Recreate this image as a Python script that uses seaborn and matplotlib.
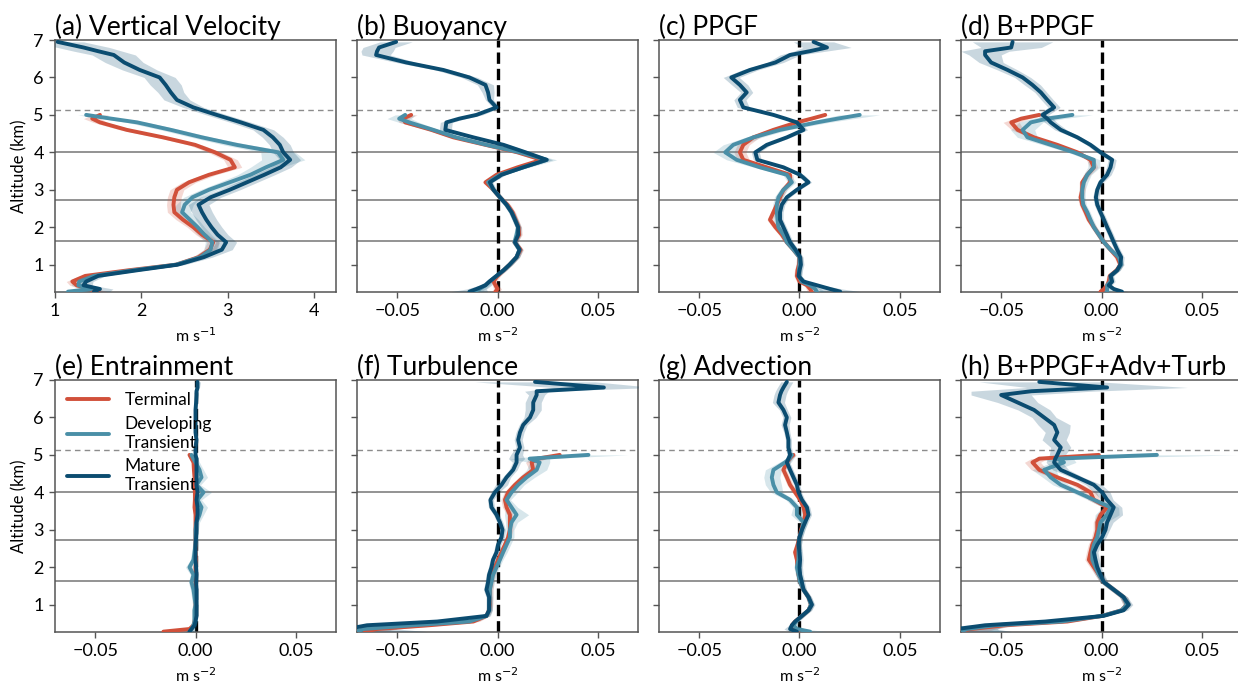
import numpy as np
import pandas as pd
import matplotlib
matplotlib.use("Agg")
import matplotlib.pyplot as plt
from matplotlib.lines import Line2D
import seaborn as sns

# ---------------------------------------------------------------------------
# Altitude grids (km): terminal / developing thermals stop at 5 km,
# mature transients reach ~7 km.
Z_TD = [0.28, 0.35, 0.45, 0.55, 0.7, 0.85, 1.0, 1.2, 1.4, 1.6, 1.8, 2.0, 2.2, 2.4,
        2.6, 2.8, 3.0, 3.2, 3.4, 3.6, 3.8, 4.0, 4.2, 4.4, 4.6, 4.8, 4.9, 5.0]
Z_M = Z_TD + [5.2, 5.4, 5.6, 5.8, 6.0, 6.2, 6.4, 6.6, 6.7, 6.8, 6.95]

GROUPS = ["Terminal", "Developing\nTransient", "Mature\nTransient"]
COLORS = ["#d1503a", "#4a8fa7", "#0b4c70"]

# (a) vertical velocity, m s-1
TERM_W = [1.50, 1.40, 1.25, 1.20, 1.35, 1.85, 2.40, 2.66, 2.79, 2.83, 2.70, 2.60, 2.48, 2.38,
          2.37, 2.38, 2.41, 2.55, 2.78, 3.08, 3.03, 2.85, 2.62, 2.25, 1.83, 1.52, 1.43, 1.52]
DEV_W = [1.15, 1.42, 1.27, 1.28, 1.45, 1.90, 2.40, 2.68, 2.80, 2.82, 2.73, 2.65, 2.56, 2.47,
         2.50, 2.59, 2.78, 3.02, 3.26, 3.44, 3.64, 3.58, 3.10, 2.70, 2.34, 1.95, 1.65, 1.36]
MAT_W = [1.45, 1.52, 1.33, 1.36, 1.50, 1.95, 2.42, 2.72, 2.93, 2.98, 2.88, 2.81, 2.75, 2.70,
         2.66, 2.80, 3.02, 3.22, 3.42, 3.61, 3.72, 3.64, 3.60, 3.52, 3.41, 3.15, 3.01, 2.87,
         2.60, 2.41, 2.34, 2.28, 2.21, 1.98, 1.80, 1.68, 1.50, 1.33, 1.03]
TERM_W_ERR = [0.10, 0.10, 0.08, 0.07, 0.07, 0.07, 0.07, 0.07, 0.07, 0.07, 0.07, 0.07, 0.08, 0.08,
              0.08, 0.08, 0.08, 0.08, 0.08, 0.08, 0.08, 0.08, 0.08, 0.08, 0.08, 0.08, 0.10, 0.10]
DEV_W_ERR = [0.15, 0.12, 0.08, 0.08, 0.08, 0.08, 0.08, 0.08, 0.08, 0.08, 0.08, 0.08, 0.10, 0.10,
             0.10, 0.10, 0.10, 0.12, 0.15, 0.18, 0.25, 0.20, 0.15, 0.12, 0.12, 0.12, 0.10, 0.10]
MAT_W_ERR = [0.18, 0.15, 0.10, 0.08, 0.08, 0.08, 0.08, 0.10, 0.12, 0.12, 0.12, 0.12, 0.12, 0.12,
             0.12, 0.12, 0.12, 0.12, 0.12, 0.12, 0.12, 0.12, 0.12, 0.12, 0.12, 0.12, 0.12, 0.12,
             0.12, 0.15, 0.15, 0.18, 0.18, 0.20, 0.22, 0.25, 0.28, 0.30, 0.30]

# (b) buoyancy, m s-2
TERM_B = [-0.001, 0.0, -0.001, -0.002, 0.0, 0.003, 0.006, 0.0095, 0.0115, 0.0085, 0.0108, 0.0105,
          0.009, 0.0075, 0.005, 0.0012, -0.002, -0.006, -0.0005, 0.010, 0.022, 0.010, -0.006,
          -0.022, -0.033, -0.046, -0.047, -0.043]
DEV_B = [-0.012, -0.009, -0.006, -0.004, -0.0005, 0.003, 0.006, 0.0095, 0.011, 0.0085, 0.0095,
         0.0103, 0.0087, 0.007, 0.0045, 0.0012, -0.002, -0.0047, 0.0012, 0.0128, 0.0245, 0.011,
         -0.0055, -0.0205, -0.032, -0.044, -0.049, -0.046]
MAT_B = [-0.014, -0.0105, -0.006, -0.004, -0.0005, 0.003, 0.006, 0.0095, 0.011, 0.0087, 0.0103,
         0.0103, 0.0087, 0.007, 0.0045, 0.0012, -0.002, -0.0038, 0.002, 0.0128, 0.0245, 0.014,
         0.003, -0.012, -0.026, -0.0255, -0.019, -0.0105, -0.0005, -0.004, -0.0047, -0.006,
         -0.014, -0.027, -0.0455, -0.0605, -0.060, -0.059, -0.0505]
TERM_B_ERR = [0.002, 0.002, 0.0015, 0.0015, 0.0015, 0.0015, 0.0015, 0.0015, 0.0015, 0.0015,
              0.0015, 0.0015, 0.0015, 0.0015, 0.0015, 0.0015, 0.0015, 0.0015, 0.0015, 0.002,
              0.002, 0.002, 0.002, 0.002, 0.002, 0.003, 0.003, 0.003]
DEV_B_ERR = [0.004, 0.003, 0.002, 0.0015, 0.0015, 0.0015, 0.0015, 0.0015, 0.0015, 0.0015,
             0.0015, 0.0015, 0.0015, 0.0015, 0.0015, 0.0015, 0.0015, 0.0015, 0.002, 0.003,
             0.005, 0.004, 0.003, 0.003, 0.003, 0.005, 0.006, 0.005]
MAT_B_ERR = [0.009, 0.005, 0.003, 0.002, 0.0015, 0.0015, 0.0015, 0.0015, 0.0015, 0.0015,
             0.0015, 0.0015, 0.0015, 0.0015, 0.0015, 0.0015, 0.0015, 0.0015, 0.002, 0.002,
             0.003, 0.003, 0.003, 0.003, 0.003, 0.003, 0.003, 0.003, 0.002, 0.002, 0.003,
             0.004, 0.004, 0.004, 0.005, 0.007, 0.008, 0.008, 0.008]

# (c) perturbation pressure gradient force, m s-2
TERM_C = [0.006, 0.0053, 0.0037, 0.0, -0.0013, -0.001, -0.0003, 0.0, -0.003, -0.0063, -0.0088,
          -0.012, -0.0147, -0.013, -0.0113, -0.0097, -0.008, -0.0047, -0.0047, -0.0163, -0.028,
          -0.0297, -0.028, -0.023, -0.013, -0.0013, 0.006, 0.0128]
DEV_C = [0.0087, 0.0078, 0.0053, 0.001, -0.0003, -0.0003, 0.0, 0.0, -0.003, -0.0063, -0.008,
         -0.0105, -0.011, -0.0113, -0.0113, -0.0105, -0.008, -0.0038, -0.0063, -0.0197, -0.0313,
         -0.037, -0.033, -0.023, -0.0097, 0.0087, 0.019, 0.030]
MAT_C = [0.0203, 0.0153, 0.0087, 0.002, -0.0005, 0.0, 0.0007, 0.0003, -0.002, -0.0047, -0.0063,
         -0.008, -0.0097, -0.0097, -0.0088, -0.0063, -0.0013, 0.0045, 0.0003, -0.008, -0.021,
         -0.022, -0.0163, -0.0063, 0.002, -0.0013, -0.007, -0.013, -0.028, -0.0297, -0.0263,
         -0.0297, -0.034, -0.0247, -0.012, -0.0047, 0.005, 0.0137, 0.007]
TERM_C_ERR = [0.002, 0.002, 0.0015, 0.0015, 0.0015, 0.0015, 0.0015, 0.0015, 0.0015, 0.0015,
              0.0015, 0.0015, 0.0015, 0.0015, 0.0015, 0.0015, 0.0015, 0.0015, 0.0015, 0.002,
              0.003, 0.003, 0.003, 0.003, 0.003, 0.003, 0.002, 0.002]
DEV_C_ERR = [0.004, 0.003, 0.002, 0.0015, 0.0015, 0.0015, 0.0015, 0.0015, 0.0015, 0.0015,
             0.0015, 0.002, 0.002, 0.002, 0.002, 0.002, 0.002, 0.002, 0.002, 0.003, 0.005,
             0.006, 0.005, 0.004, 0.004, 0.006, 0.008, 0.010]
MAT_C_ERR = [0.010, 0.006, 0.003, 0.002, 0.0015, 0.0015, 0.0015, 0.0015, 0.0015, 0.0015,
             0.0015, 0.0015, 0.0015, 0.0015, 0.0015, 0.0015, 0.0015, 0.0015, 0.002, 0.002,
             0.002, 0.002, 0.002, 0.002, 0.002, 0.002, 0.002, 0.002, 0.003, 0.003, 0.003,
             0.004, 0.004, 0.004, 0.004, 0.005, 0.008, 0.012, 0.010]

# (d) buoyancy + PPGF, m s-2
TERM_D = [-0.0005, 0.0012, 0.0028, 0.0036, 0.0041, 0.0075, 0.0094, 0.0078, 0.0045, 0.0012,
          -0.0013, -0.0038, -0.0063, -0.0079, -0.0096, -0.0104, -0.0096, -0.0096, -0.0071,
          -0.0038, -0.0055, -0.012, -0.022, -0.0336, -0.0418, -0.045, -0.040, -0.031]
DEV_D = [0.0028, 0.0028, 0.0028, 0.0045, 0.0045, 0.0078, 0.0098, 0.0086, 0.0045, 0.0012,
         -0.0013, -0.0038, -0.0055, -0.0071, -0.0091, -0.0096, -0.0096, -0.0088, -0.0071,
         -0.0038, -0.0038, -0.0137, -0.0253, -0.0369, -0.0393, -0.0352, -0.027, -0.0145]
MAT_D = [0.0102, 0.0061, 0.0036, 0.0053, 0.0045, 0.0078, 0.0094, 0.0098, 0.0078, 0.0061,
         0.0045, 0.0028, 0.0012, -0.0005, -0.0021, -0.0028, -0.0021, -0.0005, 0.0028, 0.0045,
         0.0053, -0.0005, -0.0055, -0.012, -0.0203, -0.0253, -0.027, -0.0294, -0.0236, -0.027,
         -0.0302, -0.0344, -0.0393, -0.0468, -0.055, -0.058, -0.058, -0.045, -0.0443]
TERM_D_ERR = [0.002, 0.0015, 0.0015, 0.0015, 0.0015, 0.0015, 0.0015, 0.0015, 0.0015, 0.0015,
              0.0015, 0.0015, 0.0015, 0.0015, 0.0015, 0.0015, 0.0015, 0.0015, 0.0015, 0.002,
              0.002, 0.002, 0.002, 0.002, 0.003, 0.004, 0.004, 0.003]
DEV_D_ERR = [0.003, 0.002, 0.0015, 0.0015, 0.0015, 0.0015, 0.0015, 0.0015, 0.0015, 0.0015,
             0.0015, 0.0015, 0.0015, 0.0015, 0.0015, 0.0015, 0.0015, 0.002, 0.002, 0.003,
             0.003, 0.003, 0.004, 0.005, 0.006, 0.006, 0.008, 0.010]
MAT_D_ERR = [0.003, 0.002, 0.0015, 0.0015, 0.0015, 0.0015, 0.0015, 0.0015, 0.0015, 0.0015,
             0.0015, 0.0015, 0.0015, 0.0015, 0.0015, 0.0015, 0.0015, 0.0015, 0.002, 0.002,
             0.002, 0.002, 0.002, 0.002, 0.003, 0.003, 0.003, 0.003, 0.003, 0.003, 0.003,
             0.004, 0.004, 0.005, 0.006, 0.008, 0.012, 0.015, 0.020]

# (e) entrainment, m s-2
TERM_E = [-0.016, -0.003, -0.001, -0.0005, 0.0, 0.0, 0.0, 0.0, 0.0, 0.0, 0.0, 0.0, 0.0003, 0.0,
          0.0, 0.0, 0.0, 0.0, 0.0, -0.0005, -0.0003, -0.0003, -0.0005, -0.0005, -0.0008, -0.001,
          -0.002, -0.003]
DEV_E = [-0.003, -0.002, -0.001, -0.0005, -0.0005, -0.0005, 0.0, -0.0005, -0.001, -0.002,
         -0.001, -0.003, -0.001, -0.0005, 0.0, 0.0, 0.0, 0.0005, 0.002, 0.003, 0.001, 0.004,
         0.0005, 0.003, 0.002, 0.0, -0.001, -0.002]
MAT_E = [-0.003, -0.002, -0.0005, 0.0, 0.0005, 0.0005, 0.0005, 0.0005, 0.0005, 0.0003, 0.0005,
         0.0003, 0.0, 0.0, 0.0, 0.0003, 0.0005, 0.0005, 0.001, 0.001, 0.0005, 0.001, 0.0005,
         0.0005, 0.0005, 0.0005, 0.0005, 0.0, 0.0, 0.0005, 0.0, 0.0, 0.0, 0.0, 0.0003, 0.0005,
         0.0005, 0.001, 0.001]
TERM_E_ERR = [0.002, 0.001, 0.0008, 0.0008, 0.0008, 0.0008, 0.0008, 0.0008, 0.0008, 0.0008,
              0.0008, 0.0008, 0.0008, 0.0008, 0.0008, 0.0008, 0.0008, 0.0008, 0.0008, 0.0008,
              0.0008, 0.0008, 0.0008, 0.0008, 0.0008, 0.001, 0.001, 0.001]
DEV_E_ERR = [0.003, 0.002, 0.0015, 0.0015, 0.0015, 0.0015, 0.0015, 0.0015, 0.0015, 0.0015,
             0.0015, 0.002, 0.0015, 0.0015, 0.0015, 0.0015, 0.0015, 0.0015, 0.002, 0.003,
             0.002, 0.004, 0.002, 0.003, 0.002, 0.002, 0.002, 0.002]
MAT_E_ERR = [0.002, 0.001, 0.0008, 0.0008, 0.0008, 0.0008, 0.0008, 0.0008, 0.0008, 0.0008,
             0.0008, 0.0008, 0.0008, 0.0008, 0.0008, 0.0008, 0.0008, 0.0008, 0.0008, 0.0008,
             0.0008, 0.0008, 0.0008, 0.0008, 0.0008, 0.0008, 0.0008, 0.0008, 0.0008, 0.0008,
             0.0008, 0.0008, 0.0008, 0.0008, 0.0008, 0.0008, 0.0008, 0.001, 0.0015]

# (f) turbulence, m s-2
TERM_F = [-0.066, -0.060, -0.034, -0.012, -0.0055, -0.0042, -0.0038, -0.0038, -0.0038, -0.0033,
          -0.0025, -0.0013, 0.0003, 0.002, 0.0037, 0.0053, 0.0062, 0.0062, 0.0062, 0.0045,
          0.0037, 0.0053, 0.0087, 0.0128, 0.0178, 0.017, 0.020, 0.031]
DEV_F = [-0.070, -0.067, -0.042, -0.014, -0.0055, -0.004, -0.004, -0.0038, -0.0038, -0.003,
         -0.0022, -0.0005, 0.0012, 0.0028, 0.0045, 0.0062, 0.0062, 0.007, 0.0095, 0.007, 0.0045,
         0.007, 0.0103, 0.0145, 0.0195, 0.021, 0.016, 0.0453]
MAT_F = [-0.075, -0.075, -0.065, -0.030, -0.0055, -0.0042, -0.0042, -0.0042, -0.0055, -0.0047,
         -0.0042, -0.003, -0.0022, -0.0005, 0.0003, 0.002, 0.0025, 0.0012, -0.0005, -0.003,
         -0.0035, -0.0013, 0.002, 0.0045, 0.0078, 0.0095, 0.0095, 0.0095, 0.0112, 0.0103,
         0.0112, 0.0128, 0.0162, 0.0178, 0.0178, 0.0195, 0.0195, 0.053, 0.0187]
TERM_F_ERR = [0.010, 0.010, 0.006, 0.003, 0.0015, 0.0015, 0.0015, 0.0015, 0.0015, 0.0015,
              0.0015, 0.0015, 0.0015, 0.0015, 0.0015, 0.0015, 0.0015, 0.0015, 0.0015, 0.002,
              0.002, 0.002, 0.002, 0.002, 0.002, 0.003, 0.004, 0.004]
DEV_F_ERR = [0.015, 0.015, 0.008, 0.004, 0.002, 0.0015, 0.0015, 0.0015, 0.0015, 0.0015,
             0.0015, 0.0015, 0.0015, 0.002, 0.002, 0.002, 0.002, 0.003, 0.006, 0.003, 0.002,
             0.003, 0.003, 0.004, 0.005, 0.005, 0.010, 0.020]
MAT_F_ERR = [0.040, 0.025, 0.010, 0.004, 0.0015, 0.0015, 0.0015, 0.0015, 0.0015, 0.0015,
             0.0015, 0.0015, 0.0015, 0.0015, 0.0015, 0.0015, 0.0015, 0.0015, 0.0015, 0.0015,
             0.0015, 0.002, 0.003, 0.002, 0.002, 0.002, 0.004, 0.003, 0.002, 0.002, 0.002,
             0.002, 0.003, 0.004, 0.004, 0.004, 0.006, 0.025, 0.030]

# (g) advection, m s-2
TERM_G = [-0.0005, -0.003, -0.0038, -0.0022, 0.0012, 0.0045, 0.0057, 0.0045, 0.002, 0.0003,
          -0.0005, -0.001, -0.0013, -0.0022, -0.001, 0.0, 0.0008, 0.002, 0.0028, 0.002, 0.0003,
          -0.0022, -0.0047, -0.0063, -0.008, -0.0063, -0.005, -0.003]
DEV_G = [0.0053, -0.0013, -0.003, -0.0017, 0.0012, 0.0045, 0.0057, 0.0045, 0.002, 0.0003,
         -0.0005, -0.0013, -0.0005, -0.0005, -0.0005, 0.0, 0.0012, 0.002, -0.0013, -0.0013,
         -0.0047, -0.0113, -0.013, -0.0138, -0.013, -0.0072, -0.005, -0.0038]
MAT_G = [-0.0013, -0.0047, -0.0038, -0.0022, 0.0012, 0.0045, 0.0062, 0.0045, 0.002, 0.0012,
         0.0003, 0.0, 0.0003, 0.0, -0.0005, 0.0, 0.0012, 0.0028, 0.0045, 0.0037, 0.0012, -0.0005,
         -0.0013, -0.003, -0.0047, -0.0063, -0.0055, -0.0047, -0.0055, -0.0055, -0.0063, -0.0072,
         -0.0063, -0.008, -0.0105, -0.0097, -0.009, -0.008, -0.0063]
TERM_G_ERR = [0.002, 0.0015, 0.0012, 0.0012, 0.0012, 0.0012, 0.0012, 0.0012, 0.0012, 0.0012,
              0.0012, 0.0012, 0.0012, 0.0012, 0.0012, 0.0012, 0.0012, 0.0012, 0.0012, 0.0012,
              0.0012, 0.0015, 0.0015, 0.0015, 0.0015, 0.0015, 0.0015, 0.0015]
DEV_G_ERR = [0.008, 0.004, 0.002, 0.0015, 0.0015, 0.0015, 0.0015, 0.0015, 0.0015, 0.0015,
             0.0015, 0.0015, 0.0015, 0.0015, 0.0015, 0.0015, 0.0015, 0.002, 0.003, 0.002,
             0.002, 0.003, 0.004, 0.004, 0.004, 0.003, 0.002, 0.002]
MAT_G_ERR = [0.004, 0.003, 0.0015, 0.0015, 0.0015, 0.0015, 0.0015, 0.0015, 0.0015, 0.0015,
             0.0015, 0.0015, 0.0015, 0.0015, 0.0015, 0.0015, 0.0015, 0.0015, 0.0015, 0.0015,
             0.0015, 0.0015, 0.0015, 0.0015, 0.0015, 0.0015, 0.0015, 0.0015, 0.0015, 0.0015,
             0.0015, 0.002, 0.002, 0.002, 0.003, 0.003, 0.003, 0.003, 0.003]

# (h) B + PPGF + advection + turbulence, m s-2
TERM_H = [-0.072, -0.065, -0.048, -0.017, 0.0003, 0.010, 0.0127, 0.011, 0.0061, 0.0012, -0.0013,
          -0.0038, -0.0063, -0.0055, -0.0046, -0.003, -0.0021, -0.0021, -0.0005, 0.0028,
          -0.0038, -0.0055, -0.012, -0.022, -0.031, -0.0344, -0.031, -0.0013]
DEV_H = [-0.070, -0.067, -0.053, -0.020, 0.0003, 0.010, 0.0127, 0.011, 0.0061, 0.0012, -0.0013,
         -0.003, -0.0046, -0.0046, -0.0038, -0.0021, -0.0013, -0.0005, 0.0028, 0.0045, -0.0038,
         -0.012, -0.0203, -0.0253, -0.0286, -0.0187, -0.022, 0.0276]
MAT_H = [-0.075, -0.072, -0.058, -0.028, 0.001, 0.011, 0.0136, 0.011, 0.0061, 0.0012, -0.0005,
         -0.0021, -0.003, -0.0038, -0.0021, 0.0003, 0.002, 0.0028, 0.0045, 0.0061, 0.0028,
         0.0003, -0.0038, -0.012, -0.0203, -0.0236, -0.023, -0.022, -0.0203, -0.0236, -0.022,
         -0.0236, -0.0286, -0.0336, -0.0418, -0.050, -0.035, 0.0028, -0.031]
TERM_H_ERR = [0.015, 0.012, 0.006, 0.003, 0.002, 0.002, 0.002, 0.002, 0.002, 0.002, 0.002,
              0.002, 0.002, 0.002, 0.002, 0.002, 0.002, 0.002, 0.002, 0.002, 0.003, 0.003,
              0.003, 0.003, 0.004, 0.004, 0.004, 0.003]
DEV_H_ERR = [0.020, 0.015, 0.008, 0.004, 0.002, 0.002, 0.002, 0.002, 0.002, 0.002, 0.002,
             0.002, 0.002, 0.002, 0.002, 0.002, 0.002, 0.003, 0.006, 0.004, 0.003, 0.003,
             0.004, 0.004, 0.006, 0.006, 0.008, 0.040]
MAT_H_ERR = [0.030, 0.020, 0.010, 0.004, 0.002, 0.002, 0.002, 0.002, 0.002, 0.002, 0.002,
             0.002, 0.002, 0.002, 0.002, 0.002, 0.002, 0.003, 0.006, 0.004, 0.003, 0.004,
             0.004, 0.003, 0.004, 0.004, 0.004, 0.004, 0.005, 0.006, 0.006, 0.008, 0.006,
             0.008, 0.010, 0.015, 0.030, 0.040, 0.030]

TITLES = ["(a) Vertical Velocity", "(b) Buoyancy", "(c) PPGF", "(d) B+PPGF",
          "(e) Entrainment", "(f) Turbulence", "(g) Advection", "(h) B+PPGF+Adv+Turb"]
PANEL_DATA = [
    (TERM_W, DEV_W, MAT_W, TERM_W_ERR, DEV_W_ERR, MAT_W_ERR),
    (TERM_B, DEV_B, MAT_B, TERM_B_ERR, DEV_B_ERR, MAT_B_ERR),
    (TERM_C, DEV_C, MAT_C, TERM_C_ERR, DEV_C_ERR, MAT_C_ERR),
    (TERM_D, DEV_D, MAT_D, TERM_D_ERR, DEV_D_ERR, MAT_D_ERR),
    (TERM_E, DEV_E, MAT_E, TERM_E_ERR, DEV_E_ERR, MAT_E_ERR),
    (TERM_F, DEV_F, MAT_F, TERM_F_ERR, DEV_F_ERR, MAT_F_ERR),
    (TERM_G, DEV_G, MAT_G, TERM_G_ERR, DEV_G_ERR, MAT_G_ERR),
    (TERM_H, DEV_H, MAT_H, TERM_H_ERR, DEV_H_ERR, MAT_H_ERR),
]

LAYER_LEVELS = [1.64, 2.72, 4.0]      # solid reference altitudes (km)
TOP_LEVEL = 5.13                       # dashed reference altitude (km)
Y_TICKS = [1, 2, 3, 4, 5, 6, 7]
W_TICKS = [1, 2, 3, 4]
ACC_TICKS = [-0.05, 0.0, 0.05]
ACC_TICK_LABELS = ["\u22120.05", "0.00", "0.05"]

# long-form table for seaborn
rows = []
for p, (t, d, m, te, de, me) in enumerate(PANEL_DATA):
    for g, z, v, e in zip(GROUPS, (Z_TD, Z_TD, Z_M), (t, d, m), (te, de, me)):
        for zi, vi, ei in zip(z, v, e):
            rows.append({"panel": p, "group": g, "alt": zi, "value": vi, "err": ei})
df = pd.DataFrame(rows)

sns.set_style("ticks")
plt.rcParams["font.family"] = ["Lato", "DejaVu Sans"]
plt.rcParams["axes.edgecolor"] = "#555555"
plt.rcParams["xtick.color"] = "#555555"
plt.rcParams["ytick.color"] = "#555555"
plt.rcParams["xtick.labelcolor"] = "black"
plt.rcParams["ytick.labelcolor"] = "black"
plt.rcParams["text.color"] = "black"
plt.rcParams["axes.labelcolor"] = "black"
plt.rcParams["axes.titlecolor"] = "black"

W_PX, H_PX = 1238, 684
fig = plt.figure(figsize=(W_PX / 100, H_PX / 100), dpi=100)
col_left = [55, 357, 659, 961]
row_top = [40, 380]
ax_w, ax_h = 281, 252

for p in range(8):
    r, c = divmod(p, 4)
    ax = fig.add_axes([col_left[c] / W_PX, (H_PX - row_top[r] - ax_h) / H_PX,
                       ax_w / W_PX, ax_h / H_PX])
    sub = df[df["panel"] == p]

    for lev in LAYER_LEVELS:
        ax.axhline(lev, color="#808080", lw=1.2, zorder=1)
    ax.axhline(TOP_LEVEL, color="#8c8c8c", lw=1.0, ls=(0, (4, 3)), zorder=1)
    if p != 0:
        ax.axvline(0, color="black", lw=2.4, ls=(0, (3.4, 1.5)), zorder=2)

    for g, col in zip(GROUPS, COLORS):
        s = sub[sub["group"] == g]
        ax.fill_betweenx(s["alt"], s["value"] - s["err"], s["value"] + s["err"],
                         color=col, alpha=0.22, lw=0, zorder=3)

    sns.lineplot(data=sub, x="value", y="alt", hue="group", hue_order=GROUPS,
                 palette=COLORS, orient="y", estimator=None, sort=True,
                 lw=2.8, legend=False, ax=ax, zorder=4)

    ax.set_ylim(0.27, 7.0)
    ax.set_yticks(Y_TICKS)
    if p == 0:
        ax.set_xlim(1.0, 4.25)
        ax.set_xticks(W_TICKS)
        ax.set_xlabel("m s$^{-1}$", fontsize=11.5, labelpad=5)
    else:
        ax.set_xlim(-0.07, 0.07)
        ax.set_xticks(ACC_TICKS, labels=ACC_TICK_LABELS)
        ax.set_xlabel("m s$^{-2}$", fontsize=11.5, labelpad=5)
    if c == 0:
        ax.set_ylabel("Altitude (km)", fontsize=12, labelpad=4)
    else:
        ax.set_ylabel("")
        ax.set_yticklabels([])
    ax.tick_params(axis="both", labelsize=13, length=4, width=1.0, pad=4)
    for sp in ax.spines.values():
        sp.set_linewidth(1.1)
    ax.set_title(TITLES[p], loc="left", fontsize=19, pad=3, color="black")

    if p == 4:
        handles = [Line2D([0], [0], color=col, lw=2.8) for col in COLORS]
        ax.legend(handles, GROUPS, loc="upper left", frameon=False, fontsize=12.5,
                  handlelength=2.4, labelspacing=0.45, borderaxespad=0.3,
                  handletextpad=0.9, labelcolor="black")

fig.savefig("out.png", dpi=100)
